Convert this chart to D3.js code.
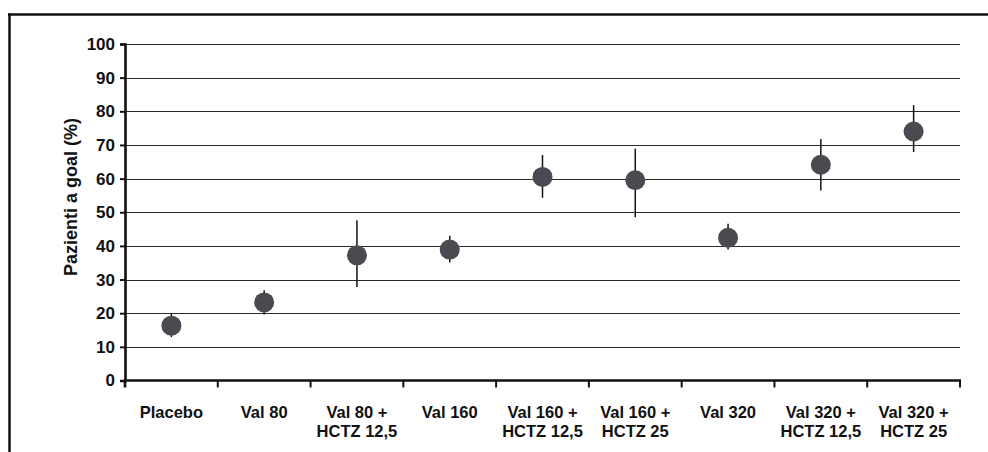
<!DOCTYPE html>
<html>
<head>
<meta charset="utf-8">
<script src="https://cdn.jsdelivr.net/npm/d3@7"></script>
<style>
  html, body { margin: 0; padding: 0; background: #fff; }
  svg { display: block; }
  text { font-family: "Liberation Sans", Arial, Helvetica, sans-serif; font-weight: bold; fill: #111; }
</style>
</head>
<body>
<svg id="chart" width="988" height="452"></svg>
<script>
const categories = ["Placebo", "Val 80", "Val 80 +\nHCTZ 12,5", "Val 160", "Val 160 +\nHCTZ 12,5",
                    "Val 160 +\nHCTZ 25", "Val 320", "Val 320 +\nHCTZ 12,5", "Val 320 +\nHCTZ 25"];
const values = [16.3, 23.2, 37.2, 38.9, 60.5, 59.5, 42.4, 64.1, 74.0];
const lowValues = [12.9, 19.6, 27.8, 35.1, 54.3, 48.5, 38.9, 56.5, 67.9];
const highValues = [19.8, 26.8, 47.6, 43.0, 67.0, 68.9, 46.6, 71.8, 81.8];
const yTicks = [0, 10, 20, 30, 40, 50, 60, 70, 80, 90, 100];
const yLabel = "Pazienti a goal (%)";

(function () {
const svg = d3.select("#chart");
const W = 988, H = 452;
const mLeft = 125, mRight = 960, mTop = 44, mBottom = 380.5;

// frame (top and left borders)
svg.append("line").attr("x1", 8).attr("x2", W).attr("y1", 14.5).attr("y2", 14.5)
  .attr("stroke", "#111").attr("stroke-width", 2.5);
svg.append("line").attr("x1", 9.5).attr("x2", 9.5).attr("y1", 13.5).attr("y2", H)
  .attr("stroke", "#111").attr("stroke-width", 2.5);

const x = d3.scaleBand().domain(categories).range([mLeft, mRight]).padding(0);
const y = d3.scaleLinear().domain([0, 100]).range([mBottom, mTop]);

// gridlines
svg.append("g").selectAll("line").data(yTicks.filter(d => d > 0)).join("line")
  .attr("x1", mLeft).attr("x2", mRight)
  .attr("y1", d => Math.round(y(d)) + 0.5).attr("y2", d => Math.round(y(d)) + 0.5)
  .attr("stroke", "#2a2a2a").attr("stroke-width", 1.2);

// y axis
const yAxis = svg.append("g").attr("transform", `translate(${mLeft},0)`)
  .call(d3.axisLeft(y).tickValues(yTicks).tickSize(5).tickPadding(5));
yAxis.select(".domain").attr("stroke", "#111").attr("stroke-width", 2.6);
yAxis.selectAll(".tick line").attr("stroke", "#111").attr("stroke-width", 2);
yAxis.selectAll(".tick text").style("font-size", "17px").style("font-family", "'Liberation Sans', Arial, sans-serif")
  .style("font-weight", "bold").attr("fill", "#111");

// x axis
const xAxis = svg.append("g").attr("transform", `translate(0,${mBottom})`);
xAxis.append("line").attr("x1", mLeft - 1.3).attr("x2", mRight + 1).attr("y1", 0).attr("y2", 0)
  .attr("stroke", "#111").attr("stroke-width", 2.6);
const boundaries = categories.map(c => x(c)).concat([mRight]);
xAxis.selectAll("line.tk").data(boundaries.slice(1)).join("line").attr("class", "tk")
  .attr("x1", d => d).attr("x2", d => d).attr("y1", 0).attr("y2", 7)
  .attr("stroke", "#111").attr("stroke-width", 2);
xAxis.append("line").attr("x1", mLeft).attr("x2", mLeft).attr("y1", 0).attr("y2", 7)
  .attr("stroke", "#111").attr("stroke-width", 2.6);

const labels = xAxis.selectAll("text.cat").data(categories).join("text").attr("class", "cat")
  .attr("text-anchor", "middle")
  .attr("x", d => x(d) + x.bandwidth() / 2)
  .style("font-size", "16.5px");
labels.each(function(d) {
  const t = d3.select(this);
  d.split("\n").forEach((line, i) => {
    t.append("tspan").attr("x", x(d) + x.bandwidth() / 2).attr("y", 37.5 + i * 19).text(line);
  });
});

// y label
svg.append("text").attr("transform", `translate(77,197) rotate(-90)`)
  .attr("text-anchor", "middle").style("font-size", "18px").text(yLabel);

// error bars
const cx = c => x(c) + x.bandwidth() / 2;
svg.append("g").selectAll("line").data(categories).join("line")
  .attr("x1", d => cx(d)).attr("x2", d => cx(d))
  .attr("y1", (d, i) => y(highValues[i])).attr("y2", (d, i) => y(lowValues[i]))
  .attr("stroke", "#111").attr("stroke-width", 1.5);

// points
svg.append("g").selectAll("circle").data(categories).join("circle")
  .attr("cx", d => cx(d)).attr("cy", (d, i) => y(values[i]))
  .attr("r", 10).attr("fill", "#4b4a51");
})();
</script>
</body>
</html>
